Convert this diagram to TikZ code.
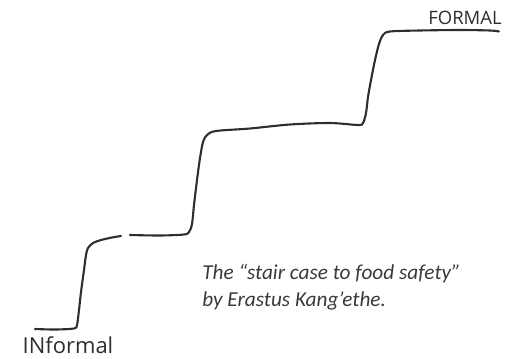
\documentclass[tikz,border=0pt]{standalone}
\usepackage{fontspec}
\newfontfamily\notefont{Carlito}
\newfontfamily\handfont{Open Sans}
\usetikzlibrary{positioning}
\definecolor{pen}{HTML}{2E2E2E}
\definecolor{note}{HTML}{3A3A3A}

\begin{document}
\begin{tikzpicture}[x=0.02cm, y=-0.02cm,
  stair/.style={pen, line width=1.2pt, line cap=round, line join=round},
  hand/.style={pen, font=\handfont\fontsize{10.5}{10.5}\selectfont, inner sep=0pt}]

 \useasboundingbox (0,0) rectangle (509,358);

 %lower flight (bottom tread, first riser, broken tread)
 \draw[stair] plot[smooth, tension=0.5] coordinates {
   (35,329) (55,329.5) (74,328.5) (77,325) (79,310) (81,292) (84,270)
   (86,255) (88,248) (93,243) (101,240) (112,237.5) (121,236)};

 %upper flight (rest of the tread up to the landing)
 \draw[stair] plot[smooth, tension=0.5] coordinates {
   (130,235) (160,235.5) (184,234.5) (189,232) (192,224) (194,205)
   (197,180) (200,158) (203,142) (207,135) (216,131) (250,128.5)
   (290,124.5) (330,123) (358,125) (363,123) (366,113) (368,97)
   (371,80) (375,60) (379,44) (383,35) (390,31.5) (420,30.5)
   (460,30) (490,30.5) (499,31.5)};

 %labels
 \node[hand] (formal) at (465,18) {FORMAL};
 \node[hand, font=\handfont\fontsize{12.5}{12.5}\selectfont] (informal) at (68,345) {INformal};

 \node[note, anchor=west, align=left, inner sep=0pt,
   font=\notefont\itshape\fontsize{12.1}{15.4}\selectfont] (caption) at (202,287)
   {The “stair case to food safety”\\ by Erastus Kang’ethe.};

\end{tikzpicture}
\end{document}
